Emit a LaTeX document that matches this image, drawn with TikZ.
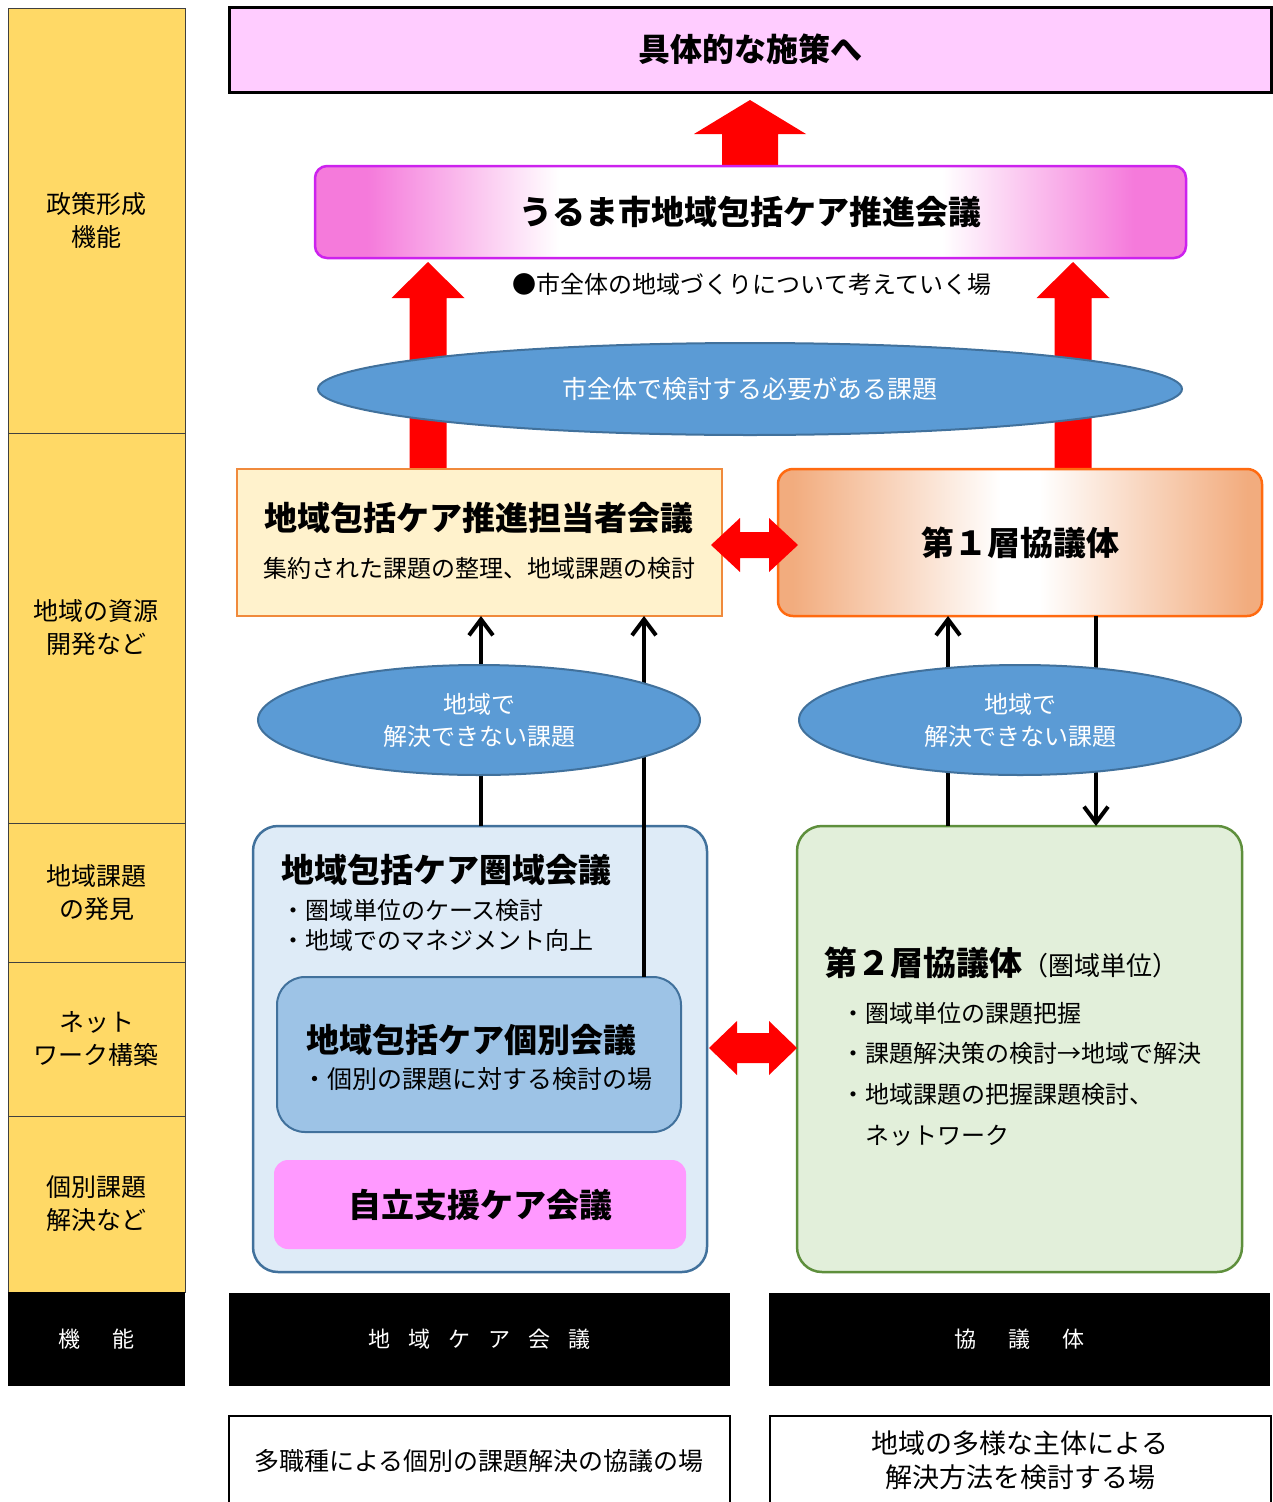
\documentclass[tikz,border=0pt]{standalone}
\usepackage{fontspec}
\setmainfont{Noto Sans CJK JP}
\usetikzlibrary{shapes.geometric,arrows.meta}
\definecolor{colyel}{HTML}{FFD966}
\definecolor{topfill}{HTML}{FFCCFF}
\definecolor{ukpink}{HTML}{F57ADB}
\definecolor{ukborder}{HTML}{CC22EE}
\definecolor{ellfill}{HTML}{5B9BD5}
\definecolor{ellborder}{HTML}{41719C}
\definecolor{tantofill}{HTML}{FFF2CC}
\definecolor{tantoborder}{HTML}{F08A3C}
\definecolor{oredge}{HTML}{F2AC7E}
\definecolor{orborder}{HTML}{FF6A10}
\definecolor{bluefill}{HTML}{DEEBF7}
\definecolor{innerfill}{HTML}{9DC3E6}
\definecolor{pinkbox}{HTML}{FF99FF}
\definecolor{greenfill}{HTML}{E2EFDA}
\definecolor{greenborder}{HTML}{5E8F3C}
\pgfdeclarehorizontalshading{pinkfade}{100bp}{color(0bp)=(ukpink); color(28bp)=(ukpink); color(39bp)=(white); color(61bp)=(white); color(72bp)=(ukpink); color(100bp)=(ukpink)}
\pgfdeclarehorizontalshading{orfade}{100bp}{color(0bp)=(oredge); color(26.5bp)=(oredge); color(48bp)=(white); color(52bp)=(white); color(73.5bp)=(oredge); color(100bp)=(oredge)}
\newcommand\redup[6]{\fill[red] ({#1-#4},#2) -- ({#1-#4},{#3+#6}) -- ({#1-#5},{#3+#6}) -- (#1,#3) -- ({#1+#5},{#3+#6}) -- ({#1+#4},{#3+#6}) -- ({#1+#4},#2) -- cycle;}
\newcommand\redlr[6]{\fill[red] (#1,#3) -- ({#1+#6},{#3-#5}) -- ({#1+#6},{#3-#4}) -- ({#2-#6},{#3-#4}) -- ({#2-#6},{#3-#5}) -- (#2,#3) -- ({#2-#6},{#3+#5}) -- ({#2-#6},{#3+#4}) -- ({#1+#6},{#3+#4}) -- ({#1+#6},{#3+#5}) -- cycle;}
\begin{document}
\begin{tikzpicture}[x=1pt,y=-1pt,
  every node/.style={inner sep=0pt, outer sep=0pt},
  box/.style={rectangle, anchor=north west, align=center},
  colbox/.style={box, draw=black!75, line width=0.9pt, fill=colyel, minimum width=177pt, font=\fontsize{25}{33}\selectfont},
  blackbox/.style={box, fill=black, text=white, font=\fontsize{22}{26}\selectfont},
  whitebox/.style={box, draw=black, line width=2pt, fill=white},
  ell/.style={ellipse, draw=ellborder, line width=2pt, fill=ellfill, text=white, align=center, font=\fontsize{24}{32}\selectfont},
  ttl/.style={font=\fontsize{33}{36}\selectfont\bfseries},
  txt/.style={font=\fontsize{24}{28}\selectfont},
  blkarrow/.style={line width=4pt, -{Straight Barb[length=16pt,width=24pt,line width=4pt]}},
]
\useasboundingbox (0,0) rectangle (1273,1502);
\clip (0,0) rectangle (1273,1502);
% left column
\node[colbox, minimum height=425pt] (c1) at (8,8) {政策形成\\機能};
\node[colbox, minimum height=390pt] (c2) at (8,433) {地域の資源\\開発など};
\node[colbox, minimum height=139pt] (c3) at (8,823) {地域課題\\の発見};
\node[colbox, minimum height=154pt] (c4) at (8,962) {ネット\\ワーク構築};
\node[colbox, minimum height=176pt] (c5) at (8,1116) {個別課題\\解決など};
\node[blackbox, minimum width=177pt, minimum height=94pt] (ck) at (8,1292) {機\hspace{32pt}能};
% top box
\node[box, draw=black, line width=3pt, fill=topfill, minimum width=1042pt, minimum height=85pt, font=\fontsize{32}{36}\selectfont\bfseries] (top) at (229,7) {具体的な施策へ};
% red arrows
\redup{750}{170}{100}{28}{56}{34}
\redup{428}{472}{262}{18.5}{36.5}{36}
\redup{1073}{472}{262}{18.5}{36.5}{36}
% uruma
\node[box, rounded corners=12pt, draw=ukborder, line width=2.5pt, shade, shading=pinkfade, minimum width=871pt, minimum height=92pt, font=\fontsize{33}{36}\selectfont\bfseries] (uruma) at (315,166) {うるま市地域包括ケア推進会議};
\node[txt] (place) at (752,284) {●市全体の地域づくりについて考えていく場};
% big ellipse
\node[ell, minimum width=864pt, minimum height=92pt, font=\fontsize{25}{30}\selectfont] (bigE) at (750,389) {市全体で検討する必要がある課題};
% tanto
\node[box, draw=tantoborder, line width=2pt, fill=tantofill, minimum width=485pt, minimum height=147pt] (tanto) at (237,469) {};
\node[ttl] (tantoT) at (479,518) {地域包括ケア推進担当者会議};
\node[txt] (tantoS) at (479,568) {集約された課題の整理、地域課題の検討};
% first layer
\node[box, rounded corners=15pt, draw=orborder, line width=2.5pt, shade, shading=orfade, minimum width=484pt, minimum height=147pt, ttl] (first) at (778,469) {第１層協議体};
\redlr{711}{798}{545}{13}{27}{29}
% lower boxes
\node[box, rounded corners=25pt, draw=ellborder, line width=2.5pt, fill=bluefill, minimum width=454pt, minimum height=446pt] (blue) at (253,826) {};
\node[ttl, anchor=west] (blueT) at (281,870) {地域包括ケア圏域会議};
\node[txt, anchor=west] (blueB1) at (281,910) {・圏域単位のケース検討};
\node[txt, anchor=west] (blueB2) at (281,940) {・地域でのマネジメント向上};
\node[box, rounded corners=28pt, draw=ellborder, line width=2pt, fill=innerfill, minimum width=404pt, minimum height=155pt] (inner) at (277,977) {};
\node[ttl, anchor=west] (innerT) at (306,1040) {地域包括ケア個別会議};
\node[anchor=west, font=\fontsize{25}{28}\selectfont] (innerS) at (302,1079) {・個別の課題に対する検討の場};
\node[box, rounded corners=14pt, fill=pinkbox, minimum width=412pt, minimum height=89pt, ttl] (pinkb) at (274,1160) {自立支援ケア会議};
\node[box, rounded corners=25pt, draw=greenborder, line width=2.5pt, fill=greenfill, minimum width=445pt, minimum height=446pt] (green) at (797,826) {};
\node[anchor=west] (greenT) at (824,963) {{\fontsize{33}{36}\selectfont\bfseries 第２層協議体}{\fontsize{26}{28}\selectfont （圏域単位）}};
\node[txt, anchor=west] (gB1) at (841,1013) {・圏域単位の課題把握};
\node[txt, anchor=west] (gB2) at (841,1053) {・課題解決策の検討→地域で解決};
\node[txt, anchor=west] (gB3) at (841,1094) {・地域課題の把握課題検討、};
\node[txt, anchor=west] (gB4) at (865,1136) {ネットワーク};
\redlr{709}{797}{1048}{15}{27}{28}
% black arrows
\coordinate (xa) at (481,0);
\coordinate (xb) at (644,0);
\coordinate (xc) at (948,0);
\coordinate (xd) at (1096,0);
\draw[blkarrow] (blue.north -| xa) -- (tanto.south -| xa);
\draw[blkarrow] (inner.north -| xb) -- (tanto.south -| xb);
\draw[blkarrow] (green.north -| xc) -- (first.south -| xc);
\draw[blkarrow] (first.south -| xd) -- (green.north -| xd);
% small ellipses
\node[ell, minimum width=442pt, minimum height=110pt] (ellL) at (479,720) {地域で\\解決できない課題};
\node[ell, minimum width=442pt, minimum height=110pt] (ellR) at (1020,720) {地域で\\解決できない課題};
% bottom labels
\node[blackbox, minimum width=501pt, minimum height=93pt] (bk2) at (229,1293) {地\hspace{18pt}域\hspace{18pt}ケ\hspace{18pt}ア\hspace{18pt}会\hspace{18pt}議};
\node[blackbox, minimum width=501pt, minimum height=93pt] (bk3) at (769,1293) {協\hspace{32pt}議\hspace{32pt}体};
\node[whitebox, minimum width=501pt, minimum height=100pt] (wb2) at (229,1416) {};
\node[whitebox, minimum width=501pt, minimum height=100pt] (wb3) at (770,1416) {};
\node[font=\fontsize{25}{30}\selectfont] (wb2T) at (479,1461) {多職種による個別の課題解決の協議の場};
\node[font=\fontsize{27}{34}\selectfont, align=center] (wb3T) at (1020,1460) {地域の多様な主体による\\解決方法を検討する場};
\end{tikzpicture}
\end{document}
